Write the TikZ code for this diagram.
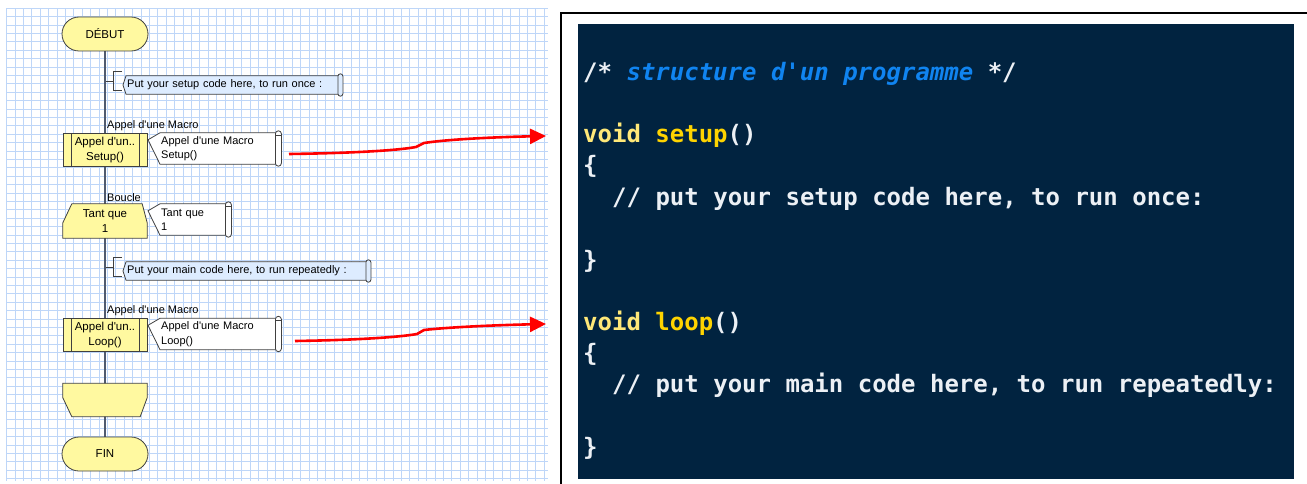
\documentclass[tikz,border=0pt]{standalone}
\usepackage{fontspec}
\setmainfont{Liberation Sans}[Ligatures=TeXOff]
\setmonofont{DejaVu Sans Mono}
\usetikzlibrary{arrows.meta}
\definecolor{bleugrille}{RGB}{190,214,248}
\definecolor{gristrait}{RGB}{80,90,110}
\definecolor{jaune}{RGB}{255,249,160}
\definecolor{bleunote}{RGB}{221,236,255}
\definecolor{fondcode}{RGB}{1,35,64}
\definecolor{bleucom}{RGB}{16,132,240}
\definecolor{jaunevoid}{RGB}{255,232,120}
\definecolor{jauneor}{RGB}{255,212,0}
\definecolor{blanccode}{RGB}{236,240,245}
\pgfdeclarelayer{grille}
\pgfdeclarelayer{fond}
\pgfsetlayers{grille,fond,main}
\tikzset{
  grillage/.style={draw=bleugrille,line width=1.1pt},
  flux/.style={draw=gristrait,line width=1.2pt},
  trait/.style={draw=black!75,line width=0.8pt},
  txt/.style={font=\fontsize{11.5}{14.5}\selectfont,align=center,inner sep=0pt},
  etiq/.style={font=\fontsize{11}{14.5}\selectfont,inner sep=0pt},
  forme/.style={trait,fill=jaune,txt},
  bulle/.style={font=\fontsize{11}{14.5}\selectfont,align=left,inner xsep=1pt,inner ysep=0pt,anchor=west},
  lien/.style={draw=red,line width=2.6pt,-{Triangle[length=16pt,width=15pt]}},
  code/.style={font=\fontsize{24}{31}\selectfont\ttfamily\bfseries,text=blanccode,anchor=base west,inner sep=0pt},
}
\begin{document}
\begin{tikzpicture}[x=1pt,y=-1pt]
  \useasboundingbox (0,0) rectangle (1307,484);
  % Organigramme
  \node[forme,rounded corners=17pt,minimum width=86pt,minimum height=34pt] (debut) at (105,34) {DÉBUT};
  \node[bulle,text width=212pt,minimum height=18pt] (note1) at (126,85) {Put your setup code here, to run once :};
  \node[forme,minimum width=84pt,minimum height=33pt] (setup) at (105,150) {Appel d'un..\\Setup()};
  \node[etiq,anchor=south west] (lab1) at ([xshift=2pt,yshift=2pt]setup.north) {Appel d'une Macro};
  \node[bulle,text width=116pt,minimum height=31pt] (csetup) at (160,148.5) {Appel d'une Macro\\Setup()};
  \node[txt,minimum width=84pt,minimum height=34pt] (tq) at (105,221) {Tant que\\1};
  \node[etiq,anchor=south west] (lab2) at ([xshift=2pt,yshift=2pt]tq.north) {Boucle};
  \node[bulle,text width=66pt,minimum height=31pt] (ctq) at (160,219.5) {Tant que\\1};
  \node[bulle,text width=240pt,minimum height=18pt] (note2) at (126,271) {Put your main code here, to run repeatedly :};
  \node[forme,minimum width=84pt,minimum height=33pt] (loop) at (105,335) {Appel d'un..\\Loop()};
  \node[etiq,anchor=south west] (lab3) at ([xshift=2pt,yshift=2pt]loop.north) {Appel d'une Macro};
  \node[bulle,text width=116pt,minimum height=31pt] (cloop) at (160,334) {Appel d'une Macro\\Loop()};
  \node[txt,minimum width=84pt,minimum height=33pt] (fb) at (105,400) {};
  \node[forme,rounded corners=17pt,minimum width=86pt,minimum height=34pt] (fin) at (105,454) {FIN};
  % Barres des macros
  \foreach \m in {setup,loop} {
    \draw[trait] ([xshift=9pt]\m.north west) -- ([xshift=9pt]\m.south west);
    \draw[trait] ([xshift=-8pt]\m.north east) -- ([xshift=-8pt]\m.south east);
  }
  % Grille et ligne de flux
  \begin{pgfonlayer}{grille}
    \fill[white] (0,0) rectangle (1307,484);
    \foreach \i in {0,...,64}
      \draw[grillage] ({6.7+8.4*\i},8.3) -- ({6.7+8.4*\i},481);
    \foreach \j in {0,...,56}
      \draw[grillage] (6.7,{8.3+8.4*\j}) -- (548,{8.3+8.4*\j});
    \draw[flux] (debut) -- (fin);
  \end{pgfonlayer}
  % Formes dessinées
  \begin{pgfonlayer}{fond}
    \filldraw[trait,fill=jaune] ([xshift=9pt]tq.north west) -- ([xshift=-5pt]tq.north east)
      -- ([yshift=-19pt]tq.north east) -- (tq.south east) -- (tq.south west)
      -- ([yshift=-19pt]tq.north west) -- cycle;
    \filldraw[trait,fill=jaune] (fb.north west) -- (fb.north east) -- ([yshift=19pt]fb.south east)
      -- ([xshift=-7pt]fb.south east) -- ([xshift=9pt]fb.south west)
      -- ([yshift=19pt]fb.south west) -- cycle;
    % Bulles
    \foreach \c in {csetup,ctq,cloop} {
      \filldraw[trait,fill=white] (\c.north west) -- ([xshift=-12pt,yshift=-7pt]\c.north west)
        -- (\c.south west) -- (\c.south east) -- (\c.north east) -- cycle;
      \filldraw[trait,fill=white,rounded corners=3pt] ([xshift=-3pt,yshift=2pt]\c.north east)
        rectangle ([xshift=3pt,yshift=-2pt]\c.south east);
      \draw[trait,line width=0.5pt] ([xshift=-3pt,yshift=-2pt]\c.north east) -- ([xshift=3pt,yshift=-2pt]\c.north east);
    }
    % Commentaires
    \foreach \n in {note1,note2} {
      \filldraw[trait,fill=bleunote] (\n.north west) -- ([xshift=-3pt]\n.west)
        -- (\n.south west) -- (\n.south east) -- (\n.north east) -- cycle;
      \filldraw[trait,fill=bleunote,rounded corners=2.5pt] ([xshift=-2.5pt,yshift=2pt]\n.north east)
        rectangle ([xshift=2.5pt,yshift=-2pt]\n.south east);
      \coordinate (b\n) at ([xshift=-13pt,yshift=4pt]\n.west);
      \draw[trait] (b\n) -- ++(-7,0);
      \draw[trait] ([shift={(9,-10)}]b\n) -- ([shift={(0,-10)}]b\n) -- ([shift={(0,9)}]b\n) -- ([shift={(9,9)}]b\n);
    }
  \end{pgfonlayer}
  % Flèches vers le code
  \coordinate (s1) at (289,154);
  \coordinate (d1) at (546,136);
  \coordinate (s2) at (295,341);
  \coordinate (d2) at (546,324);
  \draw[lien] (s1) .. controls (360,153) and (400,150) .. (416,147) -- (424,143)
    .. controls (450,139) and (500,137) .. (d1);
  \draw[lien] (s2) .. controls (360,340) and (400,337) .. (417,334) -- (424,330)
    .. controls (450,327) and (500,325) .. (d2);
  % Cadre et code
  \draw[line width=2pt] (1307,13) -- (561,13) -- (561,484);
  \fill[fondcode] (578,24) rectangle (1294,479);
  \node[code] (l1) at (583,81) {/* \textcolor{bleucom}{\itshape structure d'un programme} */};
  \node[code] (l2) at (583,143) {\textcolor{jaunevoid}{void} \textcolor{jauneor}{setup}()};
  \node[code] (l3) at (583,174) {\{};
  \node[code] (l4) at (612,205) {// put your setup code here, to run once:};
  \node[code] (l5) at (583,268) {\}};
  \node[code] (l6) at (583,330) {\textcolor{jaunevoid}{void} \textcolor{jauneor}{loop}()};
  \node[code] (l7) at (583,361) {\{};
  \node[code] (l8) at (612,392) {// put your main code here, to run repeatedly:};
  \node[code] (l9) at (583,455) {\}};
\end{tikzpicture}
\end{document}
